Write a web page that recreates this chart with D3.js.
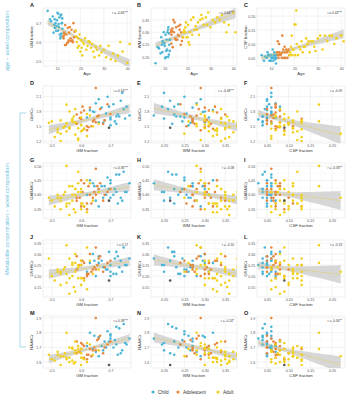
<!DOCTYPE html>
<html>
<head>
<meta charset="utf-8">
<script src="https://cdn.jsdelivr.net/npm/d3@7"></script>
<style>
  body { margin: 0; background: #fff; }
  svg { display: block; }
  text { font-family: "Liberation Sans", Arial, sans-serif; }
</style>
</head>
<body>
<div id="chart"></div>
<script>
// subjects: C = child, T = adolescent, A = adult, N = no age
const group = ["C","C","C","C","C","C","C","C","C","C","C","C","C","C","C","C","C","C","C","C","C","C","C","C","C","C","C","C",
  "T","T","T","T","T","T","T","T","T","T","T","T","T","T","T","T","T","T","T","T","T","T","T","T",
  "A","A","A","A","A","A","A","A","A","A","A","A","A","A","A","A","A","A","A","A","A","A","A","A","A","A","A","A","A","A","A","A","A","A","A","A","A","A",
  "N"];
const age = [6.0,11.5,9.0,10.2,12.0,8.2,10.8,11.8,7.5,9.6,12.2,8.8,10.5,11.2,9.3,12.3,11.0,8.5,10.0,11.6,9.8,12.1,10.4,7.0,11.9,9.1,10.7,11.4,
  15.5,13.0,17.0,12.8,16.2,14.0,13.5,15.0,17.5,12.6,14.6,16.8,13.2,15.8,17.8,14.3,12.9,16.5,15.2,13.8,17.2,14.8,16.0,13.4,
  18.0,18.2,18.5,18.8,19.0,19.3,19.6,20.0,20.2,20.5,20.8,21.0,21.5,22.0,22.5,23.0,23.5,24.0,24.5,25.0,25.5,26.0,26.5,27.0,28.0,28.5,29.0,30.0,31.0,32.0,33.0,34.0,35.0,36.0,37.0,38.0,40.0,41.0,
  null];
const gm = [0.765,0.74,0.72,0.755,0.70,0.735,0.68,0.745,0.71,0.66,0.725,0.69,0.75,0.64,0.70,0.67,0.73,0.65,0.715,0.63,0.685,0.70,0.66,0.72,0.645,0.675,0.695,0.62,
  0.68,0.65,0.70,0.62,0.665,0.64,0.69,0.61,0.655,0.63,0.675,0.60,0.645,0.62,0.66,0.595,0.635,0.61,0.65,0.585,0.625,0.60,0.605,0.585,
  0.66,0.63,0.60,0.57,0.62,0.58,0.64,0.55,0.61,0.57,0.53,0.60,0.59,0.62,0.56,0.58,0.605,0.60,0.57,0.59,0.55,0.52,0.575,0.56,0.53,0.58,0.545,0.56,0.52,0.58,0.51,0.54,0.50,0.53,0.60,0.55,0.49,0.59,
  0.695];
const wm = [0.175,0.20,0.22,0.195,0.25,0.215,0.27,0.21,0.235,0.30,0.225,0.25,0.20,0.30,0.26,0.27,0.23,0.28,0.245,0.32,0.255,0.27,0.29,0.24,0.295,0.265,0.225,0.31,
  0.27,0.29,0.25,0.31,0.285,0.30,0.24,0.32,0.265,0.30,0.275,0.33,0.305,0.29,0.28,0.34,0.255,0.31,0.27,0.35,0.30,0.27,0.325,0.315,
  0.28,0.30,0.31,0.30,0.32,0.34,0.28,0.28,0.33,0.26,0.25,0.30,0.35,0.29,0.36,0.31,0.325,0.31,0.34,0.29,0.35,0.37,0.355,0.33,0.36,0.33,0.38,0.32,0.35,0.34,0.36,0.35,0.37,0.34,0.30,0.33,0.38,0.30,
  0.215];
const csf = [0.06,0.06,0.06,0.05,0.05,0.05,0.05,0.045,0.055,0.04,0.05,0.06,0.05,0.06,0.04,0.06,0.04,0.07,0.04,0.05,0.06,0.03,0.05,0.04,0.06,0.06,0.08,0.07,
  0.05,0.06,0.05,0.07,0.05,0.06,0.07,0.07,0.08,0.07,0.05,0.07,0.05,0.09,0.06,0.065,0.11,0.08,0.08,0.065,0.075,0.13,0.07,0.10,
  0.06,0.07,0.09,0.13,0.06,0.08,0.08,0.17,0.06,0.17,0.22,0.10,0.06,0.09,0.08,0.11,0.07,0.09,0.09,0.12,0.10,0.11,0.07,0.11,0.11,0.09,0.075,0.12,0.13,0.08,0.13,0.11,0.13,0.13,0.10,0.12,0.13,0.11,
  0.09];
const glx = [1.72,2.18,1.55,1.9,1.68,2.02,1.62,1.85,1.95,1.58,1.74,2.1,1.66,1.8,1.52,1.88,1.7,1.97,1.6,1.83,1.76,1.64,2.05,1.7,1.79,1.57,1.9,1.68,
  1.62,2.28,1.75,1.5,1.85,1.6,1.95,1.45,1.7,1.88,1.55,1.78,1.63,1.42,1.72,1.67,1.5,1.82,1.58,1.74,1.48,1.65,1.9,1.55,
  1.55,1.72,1.4,1.62,1.3,1.85,1.5,1.94,1.45,1.6,1.35,1.68,1.25,1.75,1.48,1.58,1.42,1.52,1.65,1.22,1.56,1.38,1.7,1.45,1.62,1.33,1.5,1.8,1.44,1.57,1.28,1.47,1.6,1.2,1.53,1.4,1.57,1.46,
  1.47];
const gaba = [0.44,0.38,0.47,0.41,0.45,0.39,0.43,0.48,0.40,0.42,0.37,0.46,0.41,0.44,0.39,0.43,0.47,0.38,0.42,0.45,0.40,0.44,0.36,0.41,0.43,0.39,0.42,0.40,
  0.40,0.49,0.42,0.37,0.44,0.39,0.41,0.36,0.43,0.40,0.38,0.45,0.41,0.35,0.42,0.39,0.37,0.44,0.40,0.38,0.43,0.36,0.41,0.39,
  0.41,0.44,0.37,0.40,0.34,0.42,0.38,0.50,0.36,0.43,0.39,0.35,0.41,0.45,0.33,0.40,0.37,0.42,0.38,0.48,0.36,0.40,0.35,0.43,0.38,0.34,0.41,0.37,0.39,0.42,0.36,0.40,0.38,0.35,0.41,0.37,0.39,0.44,
  0.38];
const gsh = [0.28,0.22,0.31,0.25,0.20,0.27,0.24,0.33,0.21,0.26,0.29,0.23,0.25,0.30,0.22,0.27,0.24,0.20,0.28,0.26,0.23,0.25,0.29,0.21,0.27,0.24,0.31,0.22,
  0.24,0.33,0.27,0.21,0.29,0.23,0.26,0.19,0.25,0.30,0.22,0.27,0.24,0.20,0.28,0.25,0.22,0.26,0.23,0.29,0.21,0.25,0.27,0.23,
  0.23,0.27,0.19,0.25,0.14,0.30,0.21,0.34,0.18,0.26,0.22,0.16,0.24,0.33,0.12,0.22,0.19,0.27,0.20,0.25,0.17,0.23,0.15,0.28,0.21,0.13,0.24,0.19,0.22,0.26,0.18,0.23,0.20,0.16,0.25,0.21,0.28,0.19,
  0.18];
const naa = [1.76,1.68,1.84,1.72,1.79,1.66,1.74,1.86,1.7,1.77,1.65,1.81,1.73,1.69,1.78,1.71,1.83,1.67,1.75,1.8,1.7,1.76,1.64,1.72,1.78,1.68,1.74,1.71,
  1.7,1.9,1.74,1.65,1.78,1.68,1.72,1.63,1.75,1.69,1.66,1.73,1.7,1.62,1.76,1.67,1.64,1.71,1.68,1.74,1.65,1.69,1.72,1.66,
  1.68,1.72,1.63,1.7,1.6,1.74,1.65,1.8,1.62,1.69,1.64,1.58,1.67,1.73,1.6,1.66,1.63,1.69,1.61,1.71,1.62,1.67,1.59,1.7,1.64,1.6,1.66,1.63,1.65,1.68,1.61,1.64,1.62,1.58,1.66,1.63,1.65,1.69,
  1.58];

const groupNames = ["Child", "Adolescent", "Adult"];
const groupCodes = ["C", "T", "A"];
const panelLetters = ["A","B","C","D","E","F","G","H","I","J","K","L","M","N","O"];
const rLabels = ["r = -0.66***","r = 0.64***","r = 0.43***",
  "r = 0.54***","r = -0.48***","r = -0.09",
  "r = 0.36***","r = -0.08","r = -0.33**",
  "r = 0.17","r = -0.10","r = -0.13",
  "r = 0.38***","r = -0.24*","r = -0.30**"];

const ageTicks = [10, 20, 30, 40];
const gmTicks = [0.5, 0.6, 0.7];
const wmTicks = [0.20, 0.25, 0.30, 0.35];
const csfTicks = [0.05, 0.10, 0.15, 0.20];
const glxTicks = [1.2, 1.5, 1.8, 2.1];
const gabaTicks = [0.35, 0.40, 0.45, 0.50];
const gshTicks = [0.15, 0.20, 0.25, 0.30, 0.35];
const naaTicks = [1.6, 1.7, 1.8, 1.9];

const vars = {
  age:  { v: age,  title: "Age",          ticks: ageTicks,  fmt: d3.format("d"),   dom: [4, 41.6] },
  gm:   { v: gm,   title: "GM fraction",  ticks: gmTicks,   fmt: d3.format(".1f"), dom: [0.47, 0.77] },
  wm:   { v: wm,   title: "WM fraction",  ticks: wmTicks,   fmt: d3.format(".2f"), dom: [0.168, 0.379] },
  csf:  { v: csf,  title: "CSF fraction", ticks: csfTicks,  fmt: d3.format(".2f"), dom: [0.027, 0.23] },
  glx:  { v: glx,  title: "Glx/tCr",      ticks: glxTicks,  fmt: d3.format(".1f"), dom: [1.16, 2.32] },
  gaba: { v: gaba, title: "GABA/tCr",     ticks: gabaTicks, fmt: d3.format(".2f"), dom: [0.32, 0.51] },
  gsh:  { v: gsh,  title: "GSH/tCr",      ticks: gshTicks,  fmt: d3.format(".2f"), dom: [0.105, 0.364] },
  naa:  { v: naa,  title: "NAA/tCr",      ticks: naaTicks,  fmt: d3.format(".1f"), dom: [1.56, 1.914] }
};
// row-1 y domains differ slightly from the x domains used below
const row1Dom = { gm: [0.474, 0.78], wm: [0.164, 0.398], csf: [0.021, 0.229] };

const colours = { C: "#4db6d6", T: "#e6883e", A: "#f1d11f", N: "#555555" };
const accent = "#6cc0dc";

const W = 347, H = 400;
const colX = [[43, 131], [151, 237], [257, 345]];
const rowY = [[8, 66], [86, 143], [163, 218], [240, 297], [316, 368]];
const letterX = [30, 137, 244];

const svg = d3.select("#chart").append("svg")
  .attr("width", W).attr("height", H);

const defs = svg.append("defs");

function linfit(xs, ys) {
  const n = xs.length;
  const xm = d3.mean(xs), ym = d3.mean(ys);
  let sxx = 0, sxy = 0;
  xs.forEach((x, i) => { sxx += (x - xm) ** 2; sxy += (x - xm) * (ys[i] - ym); });
  const b = sxy / sxx, a = ym - b * xm;
  let sse = 0;
  xs.forEach((x, i) => { sse += (ys[i] - a - b * x) ** 2; });
  const s = Math.sqrt(sse / (n - 2));
  const lo = d3.min(xs), hi = d3.max(xs);
  return d3.range(41).map(k => {
    const x = lo + (hi - lo) * k / 40;
    const yh = a + b * x;
    const se = s * Math.sqrt(1 / n + (x - xm) ** 2 / sxx);
    return { x, y: yh, lo: yh - 1.985 * se, hi: yh + 1.985 * se };
  });
}

const xKeys = ["gm", "wm", "csf"];
const yKeys = ["glx", "gaba", "gsh", "naa"];

panelLetters.forEach((letter, p) => {
  const row = Math.floor(p / 3), col = p % 3;
  const xk = row === 0 ? "age" : xKeys[col];
  const yk = row === 0 ? xKeys[col] : yKeys[row - 1];
  const xv = vars[xk], yv = vars[yk];
  const [x0, x1] = colX[col];
  const [y0, y1] = rowY[row];

  const x = d3.scaleLinear().domain(xv.dom).range([x0, x1]);
  const y = d3.scaleLinear().domain(row === 0 ? row1Dom[yk] : yv.dom).range([y1, y0]);

  const g = svg.append("g");

  // grid
  const xMinor = xv.ticks.slice(1).map((t, i) => (t + xv.ticks[i]) / 2);
  const yMinor = yv.ticks.slice(1).map((t, i) => (t + yv.ticks[i]) / 2);
  g.selectAll(".xmin").data(xMinor).join("line")
    .attr("x1", d => x(d)).attr("x2", d => x(d)).attr("y1", y0).attr("y2", y1)
    .attr("stroke", "#f3f3f3").attr("stroke-width", 0.4);
  g.selectAll(".ymin").data(yMinor).join("line")
    .attr("y1", d => y(d)).attr("y2", d => y(d)).attr("x1", x0).attr("x2", x1)
    .attr("stroke", "#f3f3f3").attr("stroke-width", 0.4);
  g.selectAll(".xmaj").data(xv.ticks).join("line")
    .attr("x1", d => x(d)).attr("x2", d => x(d)).attr("y1", y0).attr("y2", y1)
    .attr("stroke", "#e6e6e6").attr("stroke-width", 0.5);
  g.selectAll(".ymaj").data(yv.ticks).join("line")
    .attr("y1", d => y(d)).attr("y2", d => y(d)).attr("x1", x0).attr("x2", x1)
    .attr("stroke", "#e6e6e6").attr("stroke-width", 0.5);
  g.append("rect").attr("x", x0).attr("y", y0).attr("width", x1 - x0).attr("height", y1 - y0)
    .attr("fill", "none").attr("stroke", "#dedede").attr("stroke-width", 0.5);

  // axes
  const ax = g.append("g").attr("transform", `translate(0,${y1})`)
    .call(d3.axisBottom(x).tickValues(xv.ticks).tickSize(0).tickPadding(1.5).tickFormat(xv.fmt));
  const ay = g.append("g").attr("transform", `translate(${x0},0)`)
    .call(d3.axisLeft(y).tickValues(yv.ticks).tickSize(0).tickPadding(1.8).tickFormat(yv.fmt));
  [ax, ay].forEach(a => {
    a.select(".domain").remove();
    a.selectAll("text").attr("font-size", 3.6).attr("fill", "#555")
      .attr("font-family", "'Liberation Sans', Arial, sans-serif");
  });

  g.append("text").attr("x", (x0 + x1) / 2).attr("y", y1 + 9)
    .attr("text-anchor", "middle").attr("font-size", 4.2).attr("fill", "#333").text(xv.title);
  g.append("text").attr("transform", `translate(${x0 - 10},${(y0 + y1) / 2}) rotate(-90)`)
    .attr("text-anchor", "middle").attr("font-size", 4.2).attr("fill", "#333").text(yv.title);

  g.append("text").attr("x", letterX[col]).attr("y", y0 - 1)
    .attr("font-size", 5.5).attr("font-weight", "bold").attr("fill", "#222").text(letter);

  // data for this panel
  const idx = group.map((_, i) => i).filter(i => xv.v[i] != null && yv.v[i] != null);
  const fit = linfit(idx.map(i => xv.v[i]), idx.map(i => yv.v[i]));

  const clipId = "clip" + p;
  defs.append("clipPath").attr("id", clipId).append("rect")
    .attr("x", x0).attr("y", y0).attr("width", x1 - x0).attr("height", y1 - y0);
  const plot = g.append("g").attr("clip-path", `url(#${clipId})`);

  plot.append("path").datum(fit)
    .attr("d", d3.area().x(d => x(d.x)).y0(d => y(d.lo)).y1(d => y(d.hi)))
    .attr("fill", "#c9c9c9").attr("fill-opacity", 0.75);

  plot.selectAll("circle").data(idx).join("circle")
    .attr("cx", i => x(xv.v[i])).attr("cy", i => y(yv.v[i]))
    .attr("r", 1.3).attr("fill", i => colours[group[i]]);

  plot.append("path").datum(fit)
    .attr("d", d3.line().x(d => x(d.x)).y(d => y(d.y)))
    .attr("fill", "none").attr("stroke", "#e8c81c").attr("stroke-width", 0.6)
    .attr("stroke-dasharray", "1.5,1.2");

  g.append("text").attr("x", x1 - 3).attr("y", y0 + 6)
    .attr("text-anchor", "end").attr("font-size", 3.2).attr("fill", "#333").text(rLabels[p]);
});

// left annotations
svg.append("text").attr("transform", "translate(9,41) rotate(-90)")
  .attr("text-anchor", "middle").attr("font-size", 5.6).attr("fill", accent)
  .text("age ~ voxel composition");
svg.append("text").attr("transform", "translate(9,219) rotate(-90)")
  .attr("text-anchor", "middle").attr("font-size", 5.6).attr("fill", accent)
  .text("Metabolite concentration ~ voxel composition");
svg.append("path")
  .attr("d", "M26,113 H20 V347 H26")
  .attr("fill", "none").attr("stroke", accent).attr("stroke-width", 0.6);

// legend
const legX = [153, 178, 218];
const leg = svg.append("g");
groupNames.forEach((name, i) => {
  leg.append("circle").attr("cx", legX[i]).attr("cy", 392).attr("r", 1.6)
    .attr("fill", colours[groupCodes[i]]);
  leg.append("text").attr("x", legX[i] + 5).attr("y", 393.8)
    .attr("font-size", 4.6).attr("fill", "#333").text(name);
});
</script>
</body>
</html>
